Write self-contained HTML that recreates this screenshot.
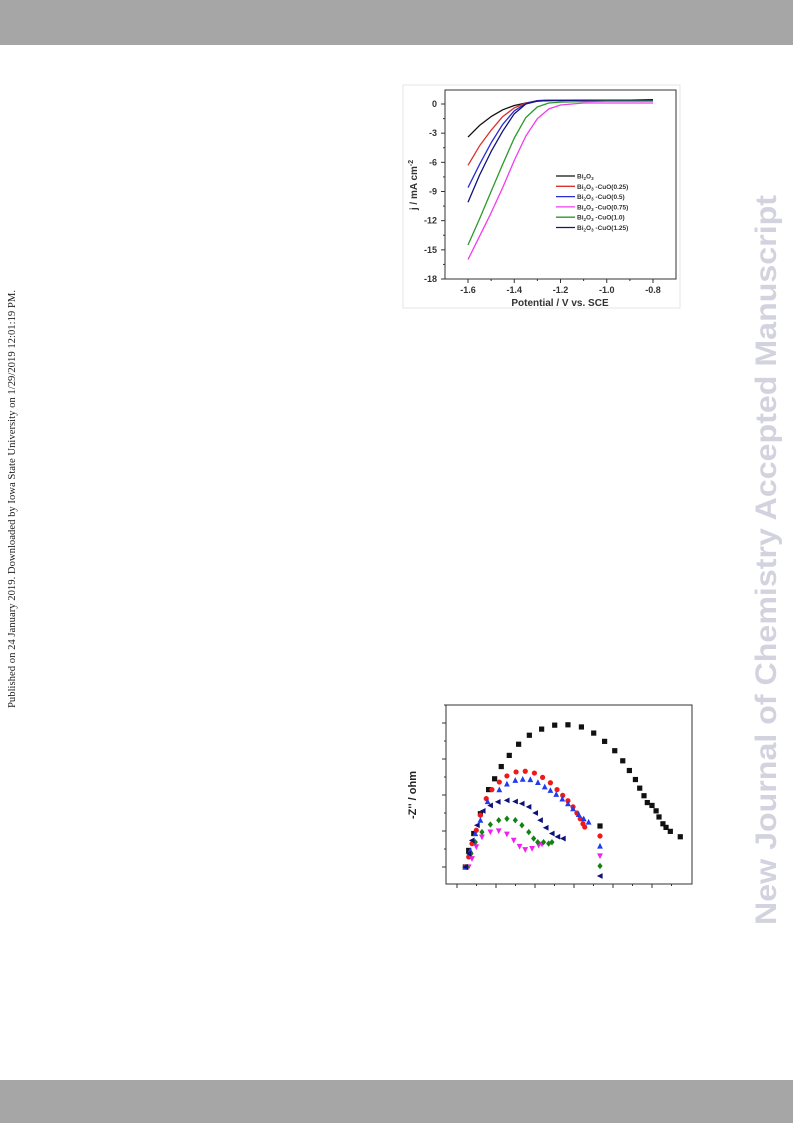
<!DOCTYPE html>
<html><head><meta charset="utf-8"><style>
html,body{margin:0;padding:0;background:#fff;}
body{width:793px;height:1123px;position:relative;overflow:hidden;font-family:"Liberation Sans",sans-serif;}
</style></head><body>
<svg id="page" width="793" height="1123" viewBox="0 0 793 1123" xmlns="http://www.w3.org/2000/svg" style="position:absolute;left:0;top:0">
<rect x="0" y="0" width="793" height="45" fill="#a6a6a6"/>
<rect x="0" y="1080" width="793" height="43" fill="#a6a6a6"/>
<text transform="translate(15,708) rotate(-90)" font-family="Liberation Serif,serif" font-size="10.2" textLength="418" lengthAdjust="spacingAndGlyphs" fill="#222">Published on 24 January 2019. Downloaded by Iowa State University on 1/29/2019 12:01:19 PM.</text>
<text transform="translate(776,925) rotate(-90)" font-family="Liberation Sans,sans-serif" font-weight="bold" font-size="30" textLength="730" lengthAdjust="spacingAndGlyphs" fill="#d3d3df">New Journal of Chemistry Accepted Manuscript</text>
<rect x="403" y="85" width="277" height="223" fill="none" stroke="#e6e6e6"/>
<g id="lsv"></g>
<g id="eis"></g>
</svg>
<script>
const NS='http://www.w3.org/2000/svg';
function mk(parent,tag,attrs,txt){const e=document.createElementNS(NS,tag);for(const k in attrs)e.setAttribute(k,attrs[k]);if(txt!==undefined)e.textContent=txt;parent.appendChild(e);return e;}

// ---------- LSV chart data ----------
const lsvX=[-1.6,-1.55,-1.5,-1.45,-1.4,-1.35,-1.3,-1.25,-1.2,-1.1,-1.0,-0.9,-0.8];
const lsvBi2O3=[-3.4,-2.2,-1.3,-0.6,-0.15,0.1,0.3,0.35,0.4,0.4,0.4,0.4,0.45];
const lsvCu025=[-6.3,-4.3,-2.7,-1.3,-0.4,0.1,0.35,0.4,0.4,0.4,0.4,0.4,0.4];
const lsvCu05=[-8.6,-6.2,-4.0,-2.1,-0.7,0.05,0.35,0.4,0.4,0.4,0.4,0.4,0.4];
const lsvCu075=[-16.0,-13.6,-11.2,-8.6,-5.8,-3.3,-1.5,-0.5,-0.1,0.1,0.1,0.1,0.1];
const lsvCu10=[-14.5,-11.8,-9.0,-6.2,-3.5,-1.4,-0.3,0.1,0.2,0.25,0.3,0.3,0.3];
const lsvCu125=[-10.1,-7.3,-4.9,-2.8,-1.0,0.0,0.3,0.35,0.35,0.4,0.4,0.4,0.4];
const lsvXTicks=[-1.6,-1.4,-1.2,-1.0,-0.8];
const lsvYTicks=[0,-3,-6,-9,-12,-15,-18];
const lsvNames=["Bi2O3","Bi2O3-CuO(0.25)","Bi2O3-CuO(0.5)","Bi2O3-CuO(0.75)","Bi2O3-CuO(1.0)","Bi2O3-CuO(1.25)"];
const lsvSuffix=["","-CuO(0.25)","-CuO(0.5)","-CuO(0.75)","-CuO(1.0)","-CuO(1.25)"];
const lsvColors=["#111","#d9322a","#2b2bd6","#f03cf0","#2a9a2a","#12127a"];

(function(){
 const g=document.getElementById('lsv');
 const L=445,R=676,T=90,B=279;
 const sx=v=>468+(v+1.6)/0.8*(653-468);
 const sy=v=>104+(-v)/18*(279-104);
 const fr=mk(g,'rect',{x:L,y:T,width:R-L,height:B-T,fill:'none',stroke:'#333','stroke-width':1});
 
 lsvXTicks.forEach(t=>{const x=sx(t);
  const l=mk(g,'line',{x1:x,y1:B,x2:x,y2:B+4,stroke:'#333'});
  
  const tx=mk(g,'text',{x:x,y:B+14,'font-size':9,'font-weight':'bold','text-anchor':'middle',fill:'#333'},t.toFixed(1));
  
  const m=sx(t+0.1); if(t<-0.8){const ml=mk(g,'line',{x1:m,y1:B,x2:m,y2:B+2,stroke:'#333'});}
 });
 lsvYTicks.forEach(t=>{const y=sy(t);
  const l=mk(g,'line',{x1:L-4,y1:y,x2:L,y2:y,stroke:'#333'});
  
  const tx=mk(g,'text',{x:L-8,y:y+3,'font-size':9,'font-weight':'bold','text-anchor':'end',fill:'#333'},String(t));
  
  if(t>-18){const ml=mk(g,'line',{x1:L-2,y1:sy(t-1.5),x2:L,y2:sy(t-1.5),stroke:'#333'});}
 });
 const xt=mk(g,'text',{x:560,y:306,'font-size':10,'font-weight':'bold','text-anchor':'middle',fill:'#333'},'Potential / V vs. SCE');
 
 const yt=mk(g,'text',{transform:'translate(417,185) rotate(-90)','font-size':10,'font-weight':'bold','text-anchor':'middle',fill:'#333'});
 
 yt.innerHTML='j / mA cm<tspan dy="-4" font-size="7">-2</tspan>';
 const series=[lsvBi2O3,lsvCu025,lsvCu05,lsvCu075,lsvCu10,lsvCu125];
 const order=[0,1,2,5,4,3];
 order.forEach(i=>{
  const d=lsvX.map((x,j)=>(j?'L':'M')+sx(x).toFixed(1)+','+sy(series[i][j]).toFixed(1)).join(' ');
  const p=mk(g,'path',{d:d,fill:'none',stroke:lsvColors[i],'stroke-width':1.3,'stroke-linejoin':'round'});
  
 });
 lsvNames.forEach((n,i)=>{const y=176+i*10.3;
  const ln=mk(g,'line',{x1:556,y1:y,x2:575,y2:y,stroke:lsvColors[i],'stroke-width':1.3});
  
  const t=mk(g,'text',{x:577,y:y+2.5,'font-size':6.5,'font-weight':'bold',fill:'#333'});
  
  t.innerHTML='Bi<tspan dy="1.5" font-size="4.5">2</tspan><tspan dy="-1.5">O</tspan><tspan dy="1.5" font-size="4.5">3</tspan><tspan dy="-1.5">'+(lsvSuffix[i]?' '+lsvSuffix[i]:'')+'</tspan>';
 });
})();

// ---------- EIS (Nyquist) chart data, axis units = tick indices ----------
const eisBlackX=[0.43,0.6,0.86,1.2,1.62,1.93,2.27,2.68,3.16,3.71,4.34,5.01,5.69,6.38,7.01,7.57,8.09,8.50,8.84,9.15,9.37,9.59,9.76,10.0,10.21,10.36,10.56,10.72,10.94,11.45];
const eisBlackY=[0,0.46,0.93,1.48,2.15,2.45,2.79,3.10,3.41,3.66,3.83,3.94,3.95,3.89,3.72,3.49,3.23,2.95,2.68,2.43,2.19,1.98,1.79,1.71,1.56,1.39,1.20,1.10,0.99,0.84];
const eisRedX=[0.43,0.60,0.77,0.99,1.20,1.50,1.79,2.17,2.56,3.03,3.50,3.97,4.39,4.79,5.13,5.42,5.69,5.95,6.15,6.32,6.46,6.55];
const eisRedY=[0,0.28,0.65,1.02,1.44,1.90,2.15,2.36,2.53,2.64,2.66,2.61,2.49,2.34,2.15,1.99,1.84,1.67,1.50,1.34,1.20,1.11];
const eisBlueX=[0.43,0.68,0.94,1.20,1.57,2.17,2.56,2.99,3.37,3.76,4.15,4.50,4.79,5.09,5.40,5.69,5.95,6.24,6.50,6.75];
const eisBlueY=[0,0.46,0.93,1.30,1.82,2.15,2.31,2.41,2.44,2.43,2.35,2.23,2.13,2.02,1.89,1.76,1.62,1.46,1.34,1.25];
const eisNavyX=[0.43,0.60,0.77,1.03,1.33,1.71,2.10,2.56,2.99,3.33,3.68,4.02,4.27,4.56,4.87,5.16,5.44];
const eisNavyY=[0,0.37,0.74,1.16,1.56,1.71,1.81,1.85,1.82,1.76,1.67,1.50,1.30,1.09,0.93,0.84,0.79];
const eisGreenX=[0.51,0.72,0.94,1.28,1.71,2.14,2.56,2.99,3.33,3.68,3.93,4.14,4.44,4.70,4.87];
const eisGreenY=[0,0.37,0.69,0.97,1.18,1.30,1.34,1.30,1.16,0.97,0.79,0.69,0.69,0.65,0.69];
const eisMagX=[0.60,0.77,0.99,1.28,1.71,2.14,2.56,2.91,3.21,3.50,3.85,4.19,4.36];
const eisMagY=[0,0.23,0.56,0.83,0.97,1.00,0.91,0.74,0.57,0.48,0.51,0.60,0.63];

(function(){
 const g=document.getElementById('eis');
 const L=446,R=692,T=705,B=884;
 const sx=v=>457+v*19.5;
 const sy=v=>867-v*36;
 const fr=mk(g,'rect',{x:L,y:T,width:R-L,height:B-T,fill:'none',stroke:'#333','stroke-width':1});
 
 for(let i=0;i<12;i++){const x=sx(i);const l=mk(g,'line',{x1:x,y1:B,x2:x,y2:B+(i%2?2:4),stroke:'#333'});
  }
 for(let i=0;i<=9;i++){const y=sy(i*0.5);if(y<T)continue;const l=mk(g,'line',{x1:L-(i%2?2:4),y1:y,x2:L,y2:y,stroke:'#333'});
  }
 const yt=mk(g,'text',{transform:'translate(416,795) rotate(-90)','font-size':11,'font-weight':'bold','text-anchor':'middle',fill:'#222'},"-Z'' / ohm");
 
 function marker(kind,x,y,c,name){let e;const s=2.6;
  if(kind==='sq')e=mk(g,'rect',{x:x-s,y:y-s,width:2*s,height:2*s,fill:c});
  else if(kind==='ci')e=mk(g,'circle',{cx:x,cy:y,r:s,fill:c});
  else if(kind==='up')e=mk(g,'polygon',{points:`${x},${y-s-0.5} ${x-s-0.3},${y+s} ${x+s+0.3},${y+s}`,fill:c});
  else if(kind==='dn')e=mk(g,'polygon',{points:`${x},${y+s+0.5} ${x-s-0.3},${y-s} ${x+s+0.3},${y-s}`,fill:c});
  else if(kind==='di')e=mk(g,'polygon',{points:`${x},${y-s-0.6} ${x+s},${y} ${x},${y+s+0.6} ${x-s},${y}`,fill:c});
  else e=mk(g,'polygon',{points:`${x-s-0.5},${y} ${x+s},${y-s-0.3} ${x+s},${y+s+0.3}`,fill:c});
  
  }
 const S=[[eisBlackX,eisBlackY,'sq','#111'],[eisRedX,eisRedY,'ci','#f01818'],[eisBlueX,eisBlueY,'up','#1f3cf0'],[eisMagX,eisMagY,'dn','#f020f0'],[eisGreenX,eisGreenY,'di','#128212'],[eisNavyX,eisNavyY,'lt','#10107a']];
 S.forEach((s,k)=>{
  // dense fill between sampled points for the rising portion
  s[0].forEach((x,j)=>marker(s[2],sx(x),sy(s[1][j]),s[3],'eis-point-'+k));
  const lg=826+k*10;
  marker(s[2],600,lg,s[3],'legend-marker-'+k);
 });
})();
</script>
</body></html>
